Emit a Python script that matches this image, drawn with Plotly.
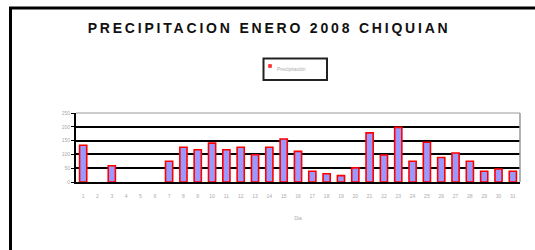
import plotly.graph_objects as go

days = [str(d) for d in range(1, 32)]
precip = [133, None, 59, None, None, None, 75, 126, 117, 141, 117, 126, 99, 126, 156,
          111, 39, 30, 23, 51, 178, 98, 198, 75, 144, 89, 105, 75, 39, 47, 39]
y_ticks = [0, 50, 100, 150, 200, 250]
title_text = "PRECIPITACION ENERO 2008 CHIQUIAN"
series_name = "Precipitación"

W, H = 535, 250
L, R, T, B = 76, 15, 113, 68
pw, ph = W - L - R, H - T - B


def px(x):
    return (x - L) / pw


def py(y):
    return (H - B - y) / ph


fig = go.Figure()
fig.add_trace(go.Bar(
    x=days, y=precip, name=series_name,
    marker=dict(color="#9999FF", line=dict(color="#FF0000", width=1.6)),
    showlegend=False,
))

fig.update_layout(
    width=W, height=H,
    margin=dict(l=L, r=R, t=T, b=B, autoexpand=False),
    paper_bgcolor="white", plot_bgcolor="white",
    bargap=0.5,
    font=dict(family="Liberation Sans, Arial", color="#999999", size=5),
    title=dict(
        text='<span style="letter-spacing:2.8px">' + title_text + '</span>',
        x=0.503, xanchor="center", y=1 - 28 / H, yanchor="middle",
        font=dict(family="Liberation Sans, Arial", size=14, color="#111111", weight="bold"),
    ),
    showlegend=False,
    xaxis=dict(
        type="category", showgrid=False,
        showline=True, linecolor="black", linewidth=2,
        ticks="", ticklabelstandoff=8,
        tickfont=dict(size=5, color="#aaaaaa"),
        title=dict(text="Dia", font=dict(size=5, color="#aaaaaa"), standoff=18),
        automargin=False,
    ),
    yaxis=dict(
        range=[0, 250], tickvals=y_ticks,
        showgrid=True, gridcolor="black", gridwidth=1.5,
        showline=True, linecolor="black", linewidth=2,
        ticks="outside", ticklen=3, tickcolor="black",
        tickfont=dict(size=5, color="#aaaaaa"),
        zeroline=False, automargin=False,
    ),
    shapes=[
        dict(type="line", xref="paper", yref="paper", x0=1, x1=1, y0=0, y1=1,
             line=dict(color="#999999", width=1.5)),
        dict(type="line", xref="paper", yref="paper", x0=0, x1=1, y0=1, y1=1,
             line=dict(color="#999999", width=1)),
        # outer chart frame
        dict(type="rect", xref="paper", yref="paper",
             x0=px(10.5), x1=px(W + 10), y0=py(H + 10), y1=py(8),
             line=dict(color="black", width=3), layer="above"),
        # legend box
        dict(type="rect", xref="paper", yref="paper",
             x0=px(263.5), x1=px(327), y0=py(80), y1=py(58.5),
             line=dict(color="#222222", width=2), fillcolor="white"),
        # legend key
        dict(type="rect", xref="paper", yref="paper",
             x0=px(268.5), x1=px(271.5), y0=py(67.5), y1=py(64.5),
             line=dict(color="#FF0000", width=0.5), fillcolor="#FF3030"),
    ],
    annotations=[
        dict(text=series_name, xref="paper", yref="paper", x=px(275), y=py(69),
             xanchor="left", yanchor="middle", showarrow=False,
             font=dict(size=5, color="#aaaaaa")),
    ],
)

fig.write_html("out.html", config={"displayModeBar": False},
               post_script="document.body.style.margin='0';")
